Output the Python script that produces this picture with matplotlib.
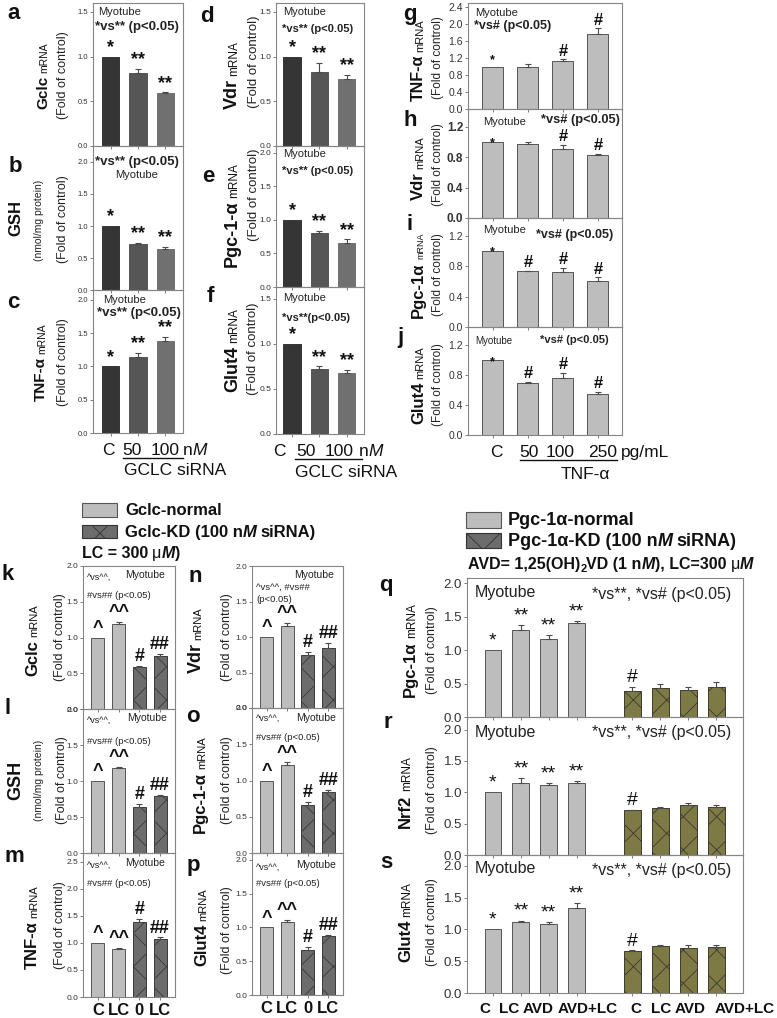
import matplotlib
matplotlib.use('Agg')
import matplotlib.pyplot as plt
import numpy as np
from matplotlib.patches import Rectangle

plt.rcParams['font.family'] = ['Liberation Sans', 'DejaVu Sans']
plt.rcParams['hatch.linewidth'] = 0.6

# ---------------- data ----------------
gclc_si_cats = ['C', '50', '100']
a_gclc = [1.00, 0.82, 0.59]; a_err = [0.00, 0.04, 0.01]
b_gsh = [1.00, 0.72, 0.64]; b_err = [0.00, 0.01, 0.03]
c_tnf = [1.00, 1.15, 1.38]; c_err = [0.00, 0.06, 0.07]
d_vdr = [1.00, 0.83, 0.75]; d_err = [0.00, 0.10, 0.05]
e_pgc = [1.00, 0.80, 0.66]; e_err = [0.00, 0.03, 0.05]
f_glut4 = [1.00, 0.72, 0.68]; f_err = [0.00, 0.03, 0.03]

tnf_cats = ['C', '50', '100', '250']
g_tnf = [1.00, 0.98, 1.13, 1.78]; g_err = [0.00, 0.07, 0.04, 0.12]
h_vdr = [1.00, 0.97, 0.90, 0.82]; h_err = [0.00, 0.03, 0.06, 0.02]
i_pgc = [1.00, 0.73, 0.72, 0.61]; i_err = [0.00, 0.01, 0.06, 0.04]
j_glut4 = [1.00, 0.69, 0.76, 0.55]; j_err = [0.00, 0.02, 0.07, 0.03]

kd_cats = ['C', 'LC', '0', 'LC']
k_gclc = [1.00, 1.19, 0.59, 0.74]; k_err = [0.00, 0.03, 0.01, 0.03]
l_gsh = [1.00, 1.18, 0.64, 0.79]; l_err = [0.00, 0.02, 0.04, 0.02]
m_tnf = [1.00, 0.88, 1.38, 1.08]; m_err = [0.00, 0.03, 0.06, 0.02]
n_vdr = [1.00, 1.15, 0.74, 0.85]; n_err = [0.00, 0.05, 0.05, 0.07]
o_pgc = [1.00, 1.22, 0.66, 0.84]; o_err = [0.00, 0.03, 0.05, 0.03]
p_glut4 = [1.00, 1.08, 0.67, 0.87]; p_err = [0.00, 0.03, 0.04, 0.02]

avd_cats = ['C', 'LC', 'AVD', 'AVD+LC', 'C', 'LC', 'AVD', 'AVD+LC']
q_pgc = [1.00, 1.30, 1.17, 1.40, 0.39, 0.43, 0.40, 0.45]
q_err = [0.00, 0.08, 0.05, 0.04, 0.06, 0.07, 0.05, 0.07]
r_nrf2 = [1.00, 1.15, 1.12, 1.15, 0.71, 0.75, 0.79, 0.77]
r_err = [0.00, 0.07, 0.02, 0.03, 0.01, 0.02, 0.04, 0.02]
s_glut4 = [1.00, 1.11, 1.09, 1.33, 0.66, 0.74, 0.70, 0.72]
s_err = [0.00, 0.03, 0.03, 0.08, 0.01, 0.01, 0.06, 0.03]

marks_3 = ['*', '**', '**']
marks_tnf = ['*', '', '#', '#']
marks_tnf2 = ['*', '#', '#', '#']
marks_kd = ['^', '^^', '#', '##']
marks_avd = ['*', '**', '**', '**', '#', '', '', '']

# ---------------- figure ----------------
W, H = 777, 1018
fig = plt.figure(figsize=(W / 100, H / 100), dpi=100)
R = fig.canvas.get_renderer()

DARKS = ['#353535', '#565656', '#707070']
LIGHT = '#bdbdbd'
HATCHGRAY = '#6c6c6c'
OLIVE = '#7d7a46'


def panel(box, vals, errs, ylim, yticks, xlim, width, colors, edges,
          hatches=None, pos=None, tick_fs=6, tick_bold=False, marks=None,
          mark_fs=13, mark_bold=True, mark_dy=0.5, xticklabels=None, xtl_fs=12):
    x0, x1, yt, yb = box
    ax = fig.add_axes([x0 / W, 1 - yb / H, (x1 - x0) / W, (yb - yt) / H])
    if pos is None:
        pos = np.arange(len(vals))
    bars = ax.bar(pos, vals, width, color=colors, edgecolor=edges, linewidth=0.7, zorder=2)
    if hatches is not None:
        for b, h in zip(bars, hatches):
            if h:
                b.set_hatch(h)
    errs = np.asarray(errs)
    vals_a = np.asarray(vals)
    m = errs > 0
    pos_a = np.asarray(pos)
    ax.errorbar(pos_a[m], vals_a[m], yerr=[np.zeros(m.sum()), errs[m]], fmt='none',
                ecolor='#4a4a4a', elinewidth=0.8, capsize=2, capthick=0.8, zorder=3)
    if marks is not None:
        for i, mk in enumerate(marks):
            if not mk:
                continue
            fs = mark_fs[i] if isinstance(mark_fs, (list, tuple)) else mark_fs
            dy = mark_dy[i] if isinstance(mark_dy, (list, tuple)) else mark_dy
            ax.annotate(mk, (pos_a[i], vals_a[i] + errs[i]), xytext=(0, dy),
                        textcoords='offset points', ha='center', va='bottom',
                        fontsize=fs, fontweight='bold' if mark_bold else 'normal',
                        color='#111111', zorder=4)
    ax.set_xlim(*xlim)
    ax.set_ylim(*ylim)
    ax.set_yticks(yticks)
    ax.set_yticklabels([f'{v:.1f}' for v in yticks], fontsize=tick_fs,
                       fontweight='bold' if tick_bold else 'normal', color='#333333')
    ax.set_xticks(pos_a)
    if xticklabels is not None:
        ax.set_xticklabels(xticklabels, fontsize=xtl_fs, fontweight='bold')
    else:
        ax.set_xticklabels([])
    ax.tick_params(axis='y', direction='out', length=2, width=0.6, colors='#666666',
                   labelcolor='#333333', pad=1.5)
    ax.tick_params(axis='x', direction='out', length=2.5, width=0.6, colors='#666666',
                   labelcolor='#111111', pad=2)
    for sp in ax.spines.values():
        sp.set_color('#858585')
        sp.set_linewidth(0.8)
    ax.patch.set_alpha(0)
    return ax


# ---- panels a-f ----
xl_a = (-0.64, 2.64)
xl_d = (-0.59, 2.64)
t3 = [0, 0.5, 1.0, 1.5]
t4 = [0, 0.5, 1.0, 1.5, 2.0]
panel((93, 183, 3, 146), a_gclc, a_err, (0, 1.6), t3, xl_a, 0.62, DARKS, DARKS, tick_fs=5.5, marks=marks_3)
panel((93, 183, 146, 290), b_gsh, b_err, (0, 2.25), t4, xl_a, 0.62, DARKS, DARKS, tick_fs=5.5, marks=marks_3)
panel((93, 183, 290, 433), c_tnf, c_err, (0, 2.15), t4, xl_a, 0.62, DARKS, DARKS, tick_fs=5.5, marks=marks_3)
panel((276, 364, 3, 146), d_vdr, d_err, (0, 1.6), t3, xl_d, 0.64, DARKS, DARKS, tick_fs=6, marks=marks_3)
panel((276, 364, 146, 287), e_pgc, e_err, (0, 2.1), t4, xl_d, 0.64, DARKS, DARKS, tick_fs=6, marks=marks_3)
panel((276, 364, 287, 434), f_glut4, f_err, (0, 1.63), t3, xl_d, 0.64, DARKS, DARKS, tick_fs=6, marks=marks_3)

# ---- panels g-j ----
xl_g = (-0.71, 3.69)
tg = [0, 0.4, 0.8, 1.2, 1.6, 2.0, 2.4]
th = [0, 0.4, 0.8, 1.2]
mfs_g = [9, 12, 12, 12]
panel((468, 622, 3, 109), g_tnf, g_err, (0, 2.5), tg, xl_g, 0.6, LIGHT, '#555555', tick_fs=7.5,
      marks=marks_tnf, mark_fs=mfs_g)
panel((468, 622, 109, 218), h_vdr, h_err, (0, 1.43), th, xl_g, 0.6, LIGHT, '#555555', tick_fs=8.5,
      tick_bold=True, marks=marks_tnf, mark_fs=mfs_g, mark_dy=[-5, 0.5, 0.5, 0.5])
panel((468, 622, 218, 327), i_pgc, i_err, (0, 1.43), th, xl_g, 0.6, LIGHT, '#555555', tick_fs=7.5,
      marks=marks_tnf2, mark_fs=mfs_g, mark_dy=[-5, 0.5, 0.5, 0.5])
panel((468, 622, 327, 435), j_glut4, j_err, (0, 1.44), th, xl_g, 0.6, LIGHT, '#555555', tick_fs=7.5,
      marks=marks_tnf2, mark_fs=mfs_g, mark_dy=[-6, 0.5, 0.5, 0.5])

# ---- panels k-p ----
xl_k = (-0.72, 3.72)
kcol = [LIGHT, LIGHT, HATCHGRAY, HATCHGRAY]
kedge = ['#555555', '#555555', '#3a3a3a', '#3a3a3a']
khat = [None, None, 'x', 'x']
tm = [0, 0.5, 1.0, 1.5, 2.0, 2.5]
panel((83, 175, 566, 709), k_gclc, k_err, (0, 2.0), t4, xl_k, 0.63, kcol, kedge, khat, marks=marks_kd)
panel((83, 175, 709, 853), l_gsh, l_err, (0, 2.0), t4, xl_k, 0.63, kcol, kedge, khat, marks=marks_kd)
panel((83, 175, 853, 997), m_tnf, m_err, (0, 2.66), tm, xl_k, 0.63, kcol, kedge, khat, marks=marks_kd,
      xticklabels=kd_cats)
panel((252, 343, 566, 708), n_vdr, n_err, (0, 2.0), t4, xl_k, 0.63, kcol, kedge, khat, marks=marks_kd)
panel((252, 343, 708, 853), o_pgc, o_err, (0, 2.0), t4, xl_k, 0.63, kcol, kedge, khat, marks=marks_kd)
panel((252, 343, 853, 995), p_glut4, p_err, (0, 2.1), t4, xl_k, 0.63, kcol, kedge, khat, marks=marks_kd,
      xticklabels=kd_cats)

# ---- panels q-s ----
xl_q = (-0.93, 8.96)
qpos = [0, 1, 2, 3, 5, 6, 7, 8]
qcol = [LIGHT] * 4 + [OLIVE] * 4
qedge = ['#555555'] * 4 + ['#3a3a30'] * 4
qhat = [None] * 4 + ['x'] * 4
panel((467, 743, 578, 717), q_pgc, q_err, (0, 2.08), t4, xl_q, 0.6, qcol, qedge, qhat, pos=qpos,
      tick_fs=9.5, marks=marks_avd, mark_bold=False, mark_fs=14)
panel((467, 743, 717, 855), r_nrf2, r_err, (0, 2.2), t4, xl_q, 0.6, qcol, qedge, qhat, pos=qpos,
      tick_fs=9.5, marks=marks_avd, mark_bold=False, mark_fs=14)
panel((467, 743, 855, 993), s_glut4, s_err, (0, 2.17), t4, xl_q, 0.6, qcol, qedge, qhat, pos=qpos,
      tick_fs=9.5, marks=marks_avd, mark_bold=False, mark_fs=14)

# ---------------- overlay (pixel coordinates) ----------------
ov = fig.add_axes([0, 0, 1, 1], zorder=20)
ov.set_xlim(0, W)
ov.set_ylim(H, 0)
ov.axis('off')
ov.patch.set_alpha(0)


def hseq(x, y, pieces, ha='left'):
    items = []
    for s, kw in pieces:
        kw = dict(kw)
        dy = kw.pop('dy', 0)
        gap = kw.pop('gap', 0)
        kw.setdefault('color', '#111111')
        t = ov.text(x, y + dy, s, ha='left', va='baseline', **kw)
        w = t.get_window_extent(R).width
        items.append((t, gap, w))
    total = sum(g + w for _, g, w in items)
    cur = x - total / 2 if ha == 'center' else x
    for t, g, w in items:
        cur += g
        t.set_x(cur)
        cur += w


def vseq(xb, yc, pieces):
    items = []
    for s, kw in pieces:
        kw = dict(kw)
        gap = kw.pop('gap', 0)
        kw.setdefault('color', '#111111')
        t = ov.text(xb, yc, s, rotation=90, rotation_mode='anchor', ha='left',
                    va='baseline', **kw)
        h = t.get_window_extent(R).height
        items.append((t, gap, h))
    total = sum(g + h for _, g, h in items)
    cur = yc + total / 2
    for t, g, h in items:
        cur -= g
        t.set_y(cur)
        cur -= h


B = dict(fontweight='bold')


def ylab(xb, yc, bold, small, bsz=12, ssz=8):
    vseq(xb, yc, [(bold, dict(fontsize=bsz, fontweight='bold')),
                  (small, dict(fontsize=ssz, gap=3))])


def fold(xb, yc, fs=9):
    vseq(xb, yc, [('(Fold of control)', dict(fontsize=fs, color='#222222'))])


# panel letters
letters = [('a', 14, 13), ('b', 15, 166), ('c', 13, 303), ('d', 207, 16), ('e', 208, 176),
           ('f', 210, 297), ('g', 410, 14), ('h', 410, 120), ('i', 410, 224), ('j', 400, 337),
           ('k', 8, 574), ('l', 8, 708), ('m', 14, 857), ('n', 195, 576), ('o', 193, 717),
           ('p', 193, 865), ('q', 386, 585), ('r', 388, 722), ('s', 386, 863)]
for L, x, y in letters:
    ov.text(x, y, L, fontsize=16, fontweight='bold', ha='center', va='center', color='#111111')

# y labels a-f
ylab(47, 76, 'Gclc', 'mRNA', 11, 7.5); fold(66, 75)
vseq(20, 218, [('GSH', dict(fontsize=12, fontweight='bold'))])
vseq(42, 220, [('(nmol/mg protein)', dict(fontsize=7.5, color='#222222'))]); fold(66, 219)
ylab(45, 362, 'TNF-\u03b1', 'mRNA', 11, 7.5); fold(66, 362)
ylab(237, 75, 'Vdr', 'mRNA', 13, 8.5); fold(257, 62, 9.5)
ylab(237, 215, 'Pgc-1-\u03b1', 'mRNA', 13, 8.5); fold(257, 195, 9.5)
ylab(237, 350, 'Glut4', 'mRNA', 13, 8.5); fold(256, 349, 9.5)
# g-j
ylab(423, 60, 'TNF-\u03b1', 'mRNA', 11.5, 8); fold(441, 58, 8.5)
ylab(423, 168, 'Vdr', 'mRNA', 12, 8); fold(441, 165, 8.5)
ylab(423, 275, 'Pgc-1\u03b1', 'mRNA', 12, 6.5); fold(441, 275, 8.5)
ylab(423, 385, 'Glut4', 'mRNA', 12, 8); fold(441, 385, 8.5)
# k-p
ylab(37, 640, 'Gclc', 'mRNA', 12, 8); fold(63, 637)
vseq(20, 780, [('GSH', dict(fontsize=13, fontweight='bold'))])
vseq(42, 780, [('(nmol/mg protein)', dict(fontsize=7.5, color='#222222'))]); fold(65, 780)
ylab(37, 927, 'TNF-\u03b1', 'mRNA', 12, 8); fold(63, 925)
ylab(201, 640, 'Vdr', 'mRNA', 13, 8); fold(230, 637)
ylab(205, 785, 'Pgc-1-\u03b1', 'mRNA', 12, 8); fold(230, 780)
ylab(206, 927, 'Glut4', 'mRNA', 12, 8); fold(230, 930)
# q-s
ylab(415, 650, 'Pgc-1\u03b1', 'mRNA', 12, 8.5); fold(435, 650, 9)
ylab(410, 792, 'Nrf2', 'mRNA', 12, 8.5); fold(435, 790, 9)
ylab(410, 922, 'Glut4', 'mRNA', 12, 8.5); fold(435, 922, 9)

# annotation texts inside panels: (x, y, text, size, weight)
annots = [
    (98, 12, 'Myotube', 8, 'normal'), (95, 27, '*vs** (p<0.05)', 9.5, 'bold'),
    (95, 162, '*vs** (p<0.05)', 9.5, 'bold'), (115, 175, 'Myotube', 8, 'normal'),
    (103, 300, 'Myotube', 8, 'normal'), (97, 313, '*vs** (p<0.05)', 9.5, 'bold'),
    (283, 12, 'Myotube', 8, 'normal'), (282, 29, '*vs** (p<0.05)', 8, 'bold'),
    (283, 154, 'Myotube', 8, 'normal'), (282, 171, '*vs** (p<0.05)', 8, 'bold'),
    (283, 298, 'Myotube', 8, 'normal'), (282, 318, '*vs**(p<0.05)', 8, 'bold'),
    (475, 13, 'Myotube', 8, 'normal'), (474, 26, '*vs# (p<0.05)', 9, 'bold'),
    (483, 122, 'Myotube', 8, 'normal'), (541, 120, '*vs# (p<0.05)', 9.3, 'bold'),
    (483, 230, 'Myotube', 8, 'normal'), (536, 235, '*vs# (p<0.05)', 9, 'bold'),
    (475, 341, 'Myotube', 7, 'normal'), (540, 340, '*vs# (p<0.05)', 8, 'bold'),
    (87, 577, '^vs^^,', 6.5, 'normal'), (125, 575, 'Myotube', 7.5, 'normal'),
    (87, 596, '#vs## (p<0.05)', 6.8, 'normal'),
    (87, 720, '^vs^^,', 6.5, 'normal'), (127, 718, 'Myotube', 7.5, 'normal'),
    (87, 741, '#vs## (p<0.05)', 6.8, 'normal'),
    (87, 865, '^vs^^,', 6.5, 'normal'), (125, 863, 'Myotube', 7.5, 'normal'),
    (87, 884, '#vs## (p<0.05)', 6.8, 'normal'),
    (294, 575, 'Myotube', 7.5, 'normal'), (256, 587, '^vs^^, #vs##', 6.8, 'normal'),
    (256, 599, '(p<0.05)', 6.8, 'normal'),
    (256, 718, '^vs^^,', 6.5, 'normal'), (296, 718, 'Myotube', 7.5, 'normal'),
    (256, 738, '#vs## (p<0.05)', 6.8, 'normal'),
    (256, 867, '^vs^^,', 6.5, 'normal'), (296, 865, 'Myotube', 7.5, 'normal'),
    (256, 884, '#vs## (p<0.05)', 6.8, 'normal'),
    (475, 593, 'Myotube', 11.5, 'normal'), (592, 594, '*vs**, *vs# (p<0.05)', 11.5, 'normal'),
    (475, 732, 'Myotube', 11.5, 'normal'), (592, 733, '*vs**, *vs# (p<0.05)', 11.5, 'normal'),
    (475, 868, 'Myotube', 11.5, 'normal'), (592, 870, '*vs**, *vs# (p<0.05)', 11.5, 'normal'),
]
for x, y, s, fs, fw in annots:
    ov.text(x, y, s, fontsize=fs, fontweight=fw, ha='left', va='center', color='#222222')

# x category labels for top rows
XL = dict(fontsize=12.5, ha='center', va='baseline', color='#111111')
for lab, x in zip(gclc_si_cats, [108, 132, 165]):
    ov.text(x, 455, lab, **XL)
hseq(183, 455, [('n', dict(fontsize=12.5)), ('M', dict(fontsize=12.5, style='italic'))])
ov.plot([123, 183], [458, 458], color='#111111', lw=1)
ov.text(175, 475, 'GCLC siRNA', **XL)

for lab, x in zip(gclc_si_cats, [279, 306, 339]):
    ov.text(x, 456, lab, **XL)
hseq(359, 456, [('n', dict(fontsize=12.5)), ('M', dict(fontsize=12.5, style='italic'))])
ov.plot([295, 362], [459, 459], color='#111111', lw=1)
ov.text(346, 477, 'GCLC siRNA', **XL)

for lab, x in zip(tnf_cats, [496, 529, 560, 603]):
    ov.text(x, 457, lab, **XL)
ov.text(621, 457, 'pg/mL', fontsize=12.5, ha='left', va='baseline', color='#111111')
ov.plot([520, 617], [460, 460], color='#111111', lw=1)
ov.text(585, 479, 'TNF-\u03b1', **XL)

# bottom labels for q-s
for lab, x in zip(avd_cats, [485, 509, 538, 588, 636, 661, 690, 745]):
    ov.text(x, 1009, lab, fontsize=11, fontweight='bold', ha='center', va='center', color='#111111')

# legends
ov.add_patch(Rectangle((82, 503), 35, 14, facecolor=LIGHT, edgecolor='#555555', lw=0.8))
ov.add_patch(Rectangle((82, 525), 35, 13, facecolor=HATCHGRAY, edgecolor='#333333', lw=0.8, hatch='x'))
hseq(125, 515, [('Gclc-normal', dict(fontsize=12, **B))])
hseq(125, 537, [('Gclc-KD (100 n', dict(fontsize=12, **B)), ('M', dict(fontsize=12, style='italic', **B)),
                ('siRNA)', dict(fontsize=12, gap=4, **B))])
hseq(82, 558, [('LC = 300', dict(fontsize=11.5, **B)), ('\u03bc', dict(fontsize=11.5, gap=4)),
               ('M', dict(fontsize=11.5, style='italic', **B)), (')', dict(fontsize=11.5, **B))])

ov.add_patch(Rectangle((466, 512), 35, 16, facecolor=LIGHT, edgecolor='#555555', lw=0.8))
ov.add_patch(Rectangle((466, 533), 35, 15, facecolor=HATCHGRAY, edgecolor='#333333', lw=0.8, hatch='x'))
hseq(508, 525, [('Pgc-1\u03b1-normal', dict(fontsize=13, **B))])
hseq(508, 546, [('Pgc-1\u03b1-KD (100 n', dict(fontsize=13, **B)), ('M', dict(fontsize=13, style='italic', **B)),
                ('siRNA)', dict(fontsize=13, gap=4, **B))])
hseq(468, 569, [('AVD= 1,25(OH)', dict(fontsize=11.5, **B)), ('2', dict(fontsize=8, dy=3, **B)),
                ('VD (1 n', dict(fontsize=11.5, **B)), ('M', dict(fontsize=11.5, style='italic', **B)),
                ('), LC=300', dict(fontsize=11.5, **B)), ('\u03bc', dict(fontsize=11.5, gap=4)),
                ('M', dict(fontsize=11.5, style='italic', **B))])

fig.savefig('out.png', dpi=100)
